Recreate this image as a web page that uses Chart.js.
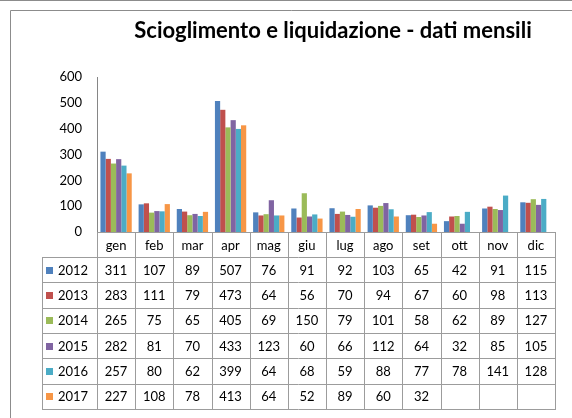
<!DOCTYPE html>
<html>
<head>
<meta charset="utf-8">
<script src="https://cdn.jsdelivr.net/npm/chart.js@4/dist/chart.umd.min.js"></script>
<style>
  html, body { margin: 0; padding: 0; background: #fff; overflow: hidden; }
  #wrap { width: 572px; height: 418px; position: relative; }
</style>
</head>
<body>
<div id="wrap"><canvas id="chart"></canvas></div>
<script>
// dati mensili
const months = ['gen', 'feb', 'mar', 'apr', 'mag', 'giu', 'lug', 'ago', 'set', 'ott', 'nov', 'dic'];
const years = ['2012', '2013', '2014', '2015', '2016', '2017'];
const v2012 = [311, 107, 89, 507, 76, 91, 92, 103, 65, 42, 91, 115];
const v2013 = [283, 111, 79, 473, 64, 56, 70, 94, 67, 60, 98, 113];
const v2014 = [265, 75, 65, 405, 69, 150, 79, 101, 58, 62, 89, 127];
const v2015 = [282, 81, 70, 433, 123, 60, 66, 112, 64, 32, 85, 105];
const v2016 = [257, 80, 62, 399, 64, 68, 59, 88, 77, 78, 141, 128];
const v2017 = [227, 108, 78, 413, 64, 52, 89, 60, 32, null, null, null];
const yTicks = [0, 100, 200, 300, 400, 500, 600];
const titleText = 'Scioglimento e liquidazione - dati mensili';

const seriesValues = [v2012, v2013, v2014, v2015, v2016, v2017];
const colors = ['#4F81BD', '#C0504D', '#9BBB59', '#8064A2', '#4BACC6', '#F79646'];
const FONT = 'Lato, "Open Sans", sans-serif';

// cornice, titolo e tabella dati sotto al grafico
const framePlugin = {
  id: 'frame',
  afterDraw(chart) {
    const ctx = chart.ctx;
    const area = chart.chartArea;
    const xs = chart.scales.x;
    ctx.save();

    // bordo esterno
    ctx.strokeStyle = '#8c8c8c';
    ctx.lineWidth = 1;
    ctx.beginPath();
    ctx.moveTo(0, 0.5); ctx.lineTo(572, 0.5);
    ctx.moveTo(10.5, 418); ctx.lineTo(10.5, 10.5); ctx.lineTo(572, 10.5);
    ctx.stroke();

    // titolo
    ctx.fillStyle = '#000';
    ctx.font = 'bold 22px ' + FONT;
    ctx.textAlign = 'center';
    ctx.textBaseline = 'middle';
    ctx.fillText(titleText, 333, 31);

    // tabella
    const top = area.bottom;
    const headerH = 25;
    const rowH = 25.3;
    const tableLeft = 42;
    const colW = (area.right - area.left) / months.length;
    const bottom = top + headerH + rowH * years.length;

    ctx.strokeStyle = '#9c9c9c';
    ctx.lineWidth = 1;
    ctx.beginPath();
    ctx.moveTo(area.left, Math.round(top) + 0.5);
    ctx.lineTo(area.right, Math.round(top) + 0.5);
    for (let k = 0; k <= years.length; k++) {
      const y = Math.round(top + headerH + k * rowH) + 0.5;
      ctx.moveTo(tableLeft, y);
      ctx.lineTo(area.right, y);
    }
    ctx.moveTo(tableLeft + 0.5, Math.round(top + headerH));
    ctx.lineTo(tableLeft + 0.5, Math.round(bottom) + 1);
    for (let i = 0; i <= months.length; i++) {
      const cx = i < months.length ? xs.getPixelForValue(i) - colW / 2 : xs.getPixelForValue(months.length - 1) + colW / 2;
      const x = Math.round(cx) + 0.5;
      ctx.moveTo(x, Math.round(top));
      ctx.lineTo(x, Math.round(bottom) + 1);
    }
    ctx.stroke();

    ctx.font = '13px ' + FONT;
    ctx.fillStyle = '#000';
    ctx.textAlign = 'center';
    months.forEach((m, i) => {
      ctx.fillText(m, xs.getPixelForValue(i), top + headerH / 2 + 1);
    });
    years.forEach((yr, r) => {
      const cy = top + headerH + rowH * r + rowH / 2 + 1;
      ctx.fillStyle = colors[r];
      ctx.fillRect(tableLeft + 4, Math.round(cy - 4), 7, 7);
      ctx.fillStyle = '#000';
      ctx.textAlign = 'left';
      ctx.fillText(yr, tableLeft + 16, cy);
      ctx.textAlign = 'center';
      seriesValues[r].forEach((v, i) => {
        if (v !== null) ctx.fillText(String(v), xs.getPixelForValue(i), cy);
      });
    });
    ctx.restore();
  }
};

const ctx = document.getElementById('chart').getContext('2d');
new Chart(ctx, {
  type: 'bar',
  data: {
    labels: months,
    datasets: years.map((yr, r) => ({
      label: yr,
      data: seriesValues[r],
      backgroundColor: colors[r],
      borderWidth: 0,
      categoryPercentage: 0.82,
      barPercentage: 1.0
    }))
  },
  options: {
    responsive: true,
    maintainAspectRatio: false,
    animation: false,
    layout: { padding: { top: 77, right: 17, bottom: 186, left: 0 } },
    plugins: {
      legend: { display: false },
      title: { display: false },
      tooltip: { enabled: false }
    },
    scales: {
      x: {
        display: false
      },
      y: {
        min: 0,
        max: 600,
        afterFit(scale) { scale.width = 97; },
        afterBuildTicks(scale) { scale.ticks = yTicks.map(v => ({ value: v })); },
        grid: { display: false, drawTicks: false },
        border: { display: true, color: '#868686', width: 1 },
        ticks: {
          padding: 15,
          color: '#000',
          font: { family: FONT, size: 13 }
        }
      }
    }
  },
  plugins: [framePlugin]
});
</script>
</body>
</html>
